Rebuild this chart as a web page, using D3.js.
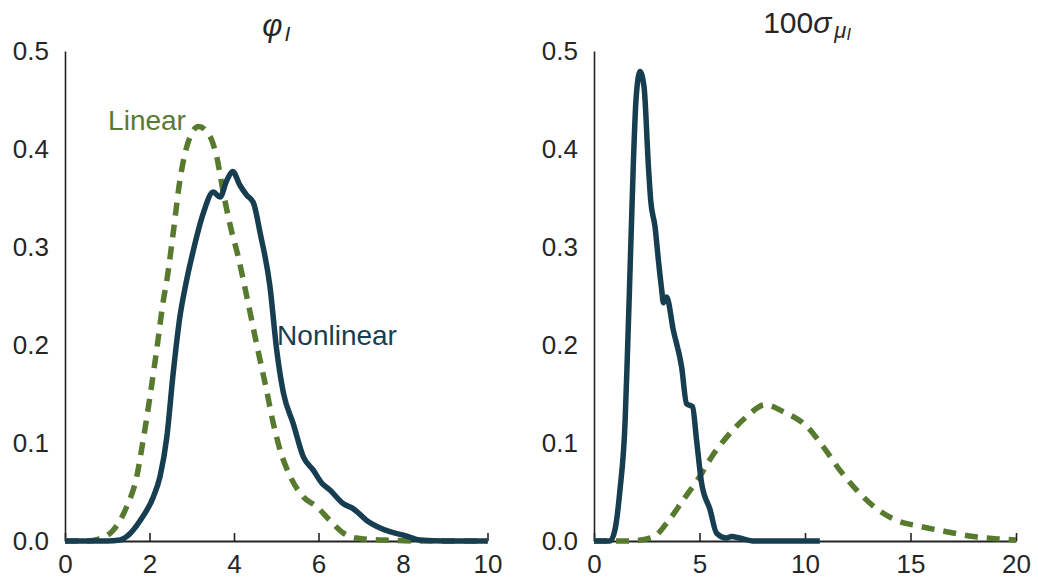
<!DOCTYPE html>
<html>
<head>
<meta charset="utf-8">
<script src="https://cdn.jsdelivr.net/npm/d3@7"></script>
<style>
  body { margin: 0; background: #fff; }
  text { font-family: "Liberation Sans", Arial, sans-serif; fill: #262626; }
</style>
</head>
<body>
<svg id="chart" width="1038" height="583"></svg>
<script>
// ---- data ----
// left panel: phi_I
var phiNonlinX = [0, 0.5, 1.0, 1.3, 1.5, 1.78, 2.09, 2.25, 2.41, 2.56, 2.72, 2.84, 3.04, 3.27, 3.51, 3.67, 3.83, 3.97, 4.14, 4.30,
                  4.46, 4.62, 4.85, 5.01, 5.17, 5.40, 5.64, 5.88, 6.08, 6.27, 6.59, 6.82, 7.14, 7.69, 8.01, 8.4, 9, 10];
var phiNonlinY = [0, 0, 0, 0.001, 0.006, 0.021, 0.045, 0.066, 0.106, 0.171, 0.229, 0.258, 0.297, 0.334, 0.356, 0.351, 0.368, 0.377, 0.363, 0.353,
                  0.345, 0.314, 0.26, 0.195, 0.151, 0.12, 0.086, 0.072, 0.059, 0.052, 0.038, 0.033, 0.021, 0.0095, 0.006, 0.001, 0, 0];
var phiLinX = [0, 0.5, 0.8, 1.14, 1.46, 1.70, 1.85, 2.01, 2.17, 2.33, 2.41, 2.56, 2.72, 2.88, 3.16, 3.43, 3.59, 3.75, 3.91, 4.10,
               4.30, 4.54, 4.77, 4.93, 5.09, 5.33, 5.64, 5.96, 6.27, 6.59, 6.90, 7.5, 8.5, 10];
var phiLinY = [0, 0, 0.002, 0.011, 0.035, 0.066, 0.103, 0.147, 0.195, 0.246, 0.266, 0.314, 0.368, 0.402, 0.423, 0.413, 0.392, 0.355, 0.322, 0.29,
               0.25, 0.2, 0.154, 0.12, 0.093, 0.066, 0.045, 0.035, 0.021, 0.008, 0.003, 0.001, 0, 0];

// right panel: 100 sigma_mu_I
var sigNonlinX = [0, 0.5, 0.76, 0.99, 1.23, 1.47, 1.58, 1.68, 1.86, 1.99, 2.18, 2.37, 2.58, 2.69, 2.89, 3.05, 3.21, 3.29, 3.44, 3.76,
                  4.15, 4.39, 4.67, 4.86, 5.10, 5.50, 5.81, 6.29, 6.52, 6.9, 7.6, 10.7];
var sigNonlinY = [0, 0, 0, 0.011, 0.052, 0.12, 0.188, 0.256, 0.382, 0.45, 0.479, 0.464, 0.382, 0.347, 0.321, 0.287, 0.256, 0.243, 0.249, 0.215,
                  0.178, 0.14, 0.137, 0.103, 0.059, 0.032, 0.008, 0.003, 0.0045, 0.003, 0, 0];
var sigLinX = [0, 1.7, 2.81, 3.44, 4.23, 5.02, 5.58, 6.29, 7.24, 8.1, 8.97, 10.08, 10.87, 11.66, 12.45, 13.39, 14.35, 15.45, 16.71, 17.98, 19.24, 20];
var sigLinY = [0, 0, 0.004, 0.018, 0.042, 0.066, 0.086, 0.106, 0.127, 0.139, 0.132, 0.117, 0.096, 0.072, 0.052, 0.033, 0.021, 0.015, 0.0095, 0.0045, 0.002, 0.001];

var yTicks = [0, 0.1, 0.2, 0.3, 0.4, 0.5];
var phiTicks = [0, 2, 4, 6, 8, 10];
var sigTicks = [0, 5, 10, 15, 20];

var navy = "#163e50", green = "#577a2f";

var svg = d3.select("#chart");
var plotTop = 51, plotBottom = 541;

function zip(xs, ys) { return xs.map(function(v, i) { return [v, ys[i]]; }); }

function panel(left, right, xMax, xTicks) {
  var g = svg.append("g");
  var x = d3.scaleLinear().domain([0, xMax]).range([left, right]);
  var y = d3.scaleLinear().domain([0, 0.5]).range([plotBottom, plotTop]);

  // y axis: line + labels only
  var ya = g.append("g")
    .attr("transform", "translate(" + left + ",0)")
    .call(d3.axisLeft(y).tickValues(yTicks).tickFormat(d3.format(".1f")).tickSize(0).tickPadding(16));
  ya.select(".domain").attr("stroke", "#222").attr("stroke-width", 1.6);

  // x axis: ticks point inward
  var xa = g.append("g")
    .attr("transform", "translate(0," + plotBottom + ")")
    .call(d3.axisBottom(x).tickValues(xTicks).tickSizeInner(-8).tickSizeOuter(0).tickPadding(14));
  xa.select(".domain").attr("stroke", "#222").attr("stroke-width", 2.2);
  xa.selectAll(".tick line").attr("stroke", "#222").attr("stroke-width", 1.6);

  g.selectAll(".tick text").attr("font-size", 26).attr("font-family", "Liberation Sans, Arial, sans-serif").style("fill", "#262626");

  var line = d3.line()
    .x(function(d) { return x(d[0]); })
    .y(function(d) { return y(d[1]); })
    .curve(d3.curveMonotoneX);

  return { g: g, x: x, y: y, line: line };
}

// ---- left panel ----
var p1 = panel(65, 487.5, 10, phiTicks);
p1.g.append("path")
  .datum(zip(phiLinX, phiLinY))
  .attr("d", p1.line)
  .attr("fill", "none").attr("stroke", green).attr("stroke-width", 5.5)
  .attr("stroke-dasharray", "13,9");
p1.g.append("path")
  .datum(zip(phiNonlinX, phiNonlinY))
  .attr("d", p1.line)
  .attr("fill", "none").attr("stroke", navy).attr("stroke-width", 5.5)
  .attr("stroke-linejoin", "round");

p1.g.append("text")
  .attr("x", p1.x(1.02)).attr("y", p1.y(0.419))
  .attr("font-size", 28).style("fill", green).text("Linear");
p1.g.append("text")
  .attr("x", p1.x(5.02)).attr("y", p1.y(0.2))
  .attr("font-size", 28).style("fill", navy).text("Nonlinear");

var t1 = p1.g.append("text")
  .attr("x", (65 + 487.5) / 2).attr("y", 36)
  .attr("text-anchor", "middle").attr("font-size", 31);
t1.append("tspan").attr("font-style", "italic").text("φ");
t1.append("tspan").attr("font-style", "italic").attr("font-size", 21).attr("dy", 5).attr("dx", 2).text("I");

// ---- right panel ----
var p2 = panel(594, 1016, 20, sigTicks);
p2.g.append("path")
  .datum(zip(sigLinX, sigLinY))
  .attr("d", p2.line)
  .attr("fill", "none").attr("stroke", green).attr("stroke-width", 5.5)
  .attr("stroke-dasharray", "13,9");
p2.g.append("path")
  .datum(zip(sigNonlinX, sigNonlinY))
  .attr("d", p2.line)
  .attr("fill", "none").attr("stroke", navy).attr("stroke-width", 5.5)
  .attr("stroke-linejoin", "round");

var t2 = p2.g.append("text")
  .attr("x", (594 + 1016) / 2 + 2).attr("y", 33)
  .attr("text-anchor", "middle").attr("font-size", 30);
t2.append("tspan").text("100");
t2.append("tspan").attr("font-style", "italic").text("σ");
t2.append("tspan").attr("font-style", "italic").attr("font-size", 22).attr("dy", 5).attr("dx", 3).text("μ");
t2.append("tspan").attr("font-style", "italic").attr("font-size", 16).attr("dy", 2).text("I");
</script>
</body>
</html>
